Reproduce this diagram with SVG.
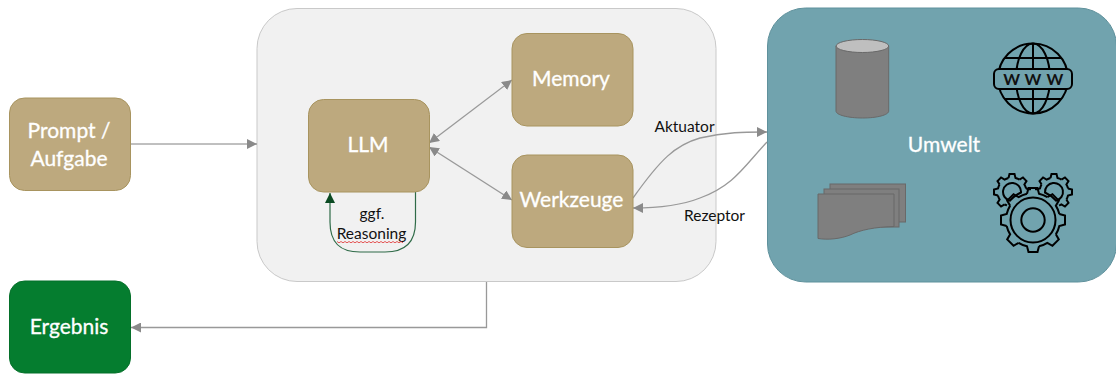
<svg xmlns="http://www.w3.org/2000/svg" width="1116" height="374" viewBox="0 0 1116 374">
<style>
text{font-family:"Lato","Open Sans","Liberation Sans",sans-serif;text-anchor:middle}
.n{fill:#bda97e;stroke:#a8945f;stroke-width:1}
.w{fill:#fff;font-size:21px;stroke:#fff;stroke-width:0.300}
.b{fill:#111;font-size:15.500px}
.c{fill:none;stroke:#999;stroke-width:1.300}
.i{fill:none;stroke:#000;stroke-width:2}
.s{fill:#7f7f7f;stroke:#696969;stroke-width:1}
</style>
<defs>
<marker id="a" viewBox="0 0 10 10" refX="10" refY="5" markerWidth="10" markerHeight="10" markerUnits="userSpaceOnUse" orient="auto-start-reverse"><path d="M0 0L10 5L0 10z" fill="#8a8a8a"/></marker>
<marker id="g" viewBox="0 0 10 10" refX="10" refY="5" markerWidth="10" markerHeight="10" markerUnits="userSpaceOnUse" orient="auto"><path d="M0 0L10 5L0 10z" fill="#0b4a22"/></marker>
<path id="bt" d="M-6 -26.300L-4.500 -32L4.500 -32L6 -26.300A27 27 0 0 1 14.400 -22.850" class="i"/>
<path id="st" d="M-3.500 -14L-2.500 -18L2.500 -18L3.500 -14A14.500 14.500 0 0 1 7.470 -12.430" class="i"/>
<g id="sg">
<use href="#st"/><use href="#st" transform="rotate(45)"/><use href="#st" transform="rotate(90)"/><use href="#st" transform="rotate(135)"/><use href="#st" transform="rotate(180)"/><use href="#st" transform="rotate(225)"/><use href="#st" transform="rotate(270)"/><use href="#st" transform="rotate(315)"/>
</g>
</defs>
<g id="agent"><rect x="257" y="8.500" width="459" height="273" rx="40" fill="#f1f1f1" stroke="#c9c9c9" stroke-width="1"/></g>
<g id="umwelt">
<rect x="767.500" y="8" width="349" height="274" rx="38" fill="#71a3ae" stroke="#5f919c" stroke-width="1"/>
<text class="w" x="944" y="151.500">Umwelt</text>
<g id="cylinder"><path class="s" d="M836 46V111C836 115 848 118 862.500 118C877 118 888.700 115 888.700 111V46z"/><ellipse cx="862.400" cy="46" rx="26.300" ry="6.500" fill="#bfbfbf" stroke="#696969"/></g>
<g id="documents"><rect class="s" x="830" y="184" width="75.500" height="38"/><rect class="s" x="824" y="189" width="75" height="38"/><path class="s" d="M818 194H894V226.500C875 227 860 230 850 235C840 239 828 240 818 238.500z"/></g>
<g id="globe">
<circle class="i" cx="1033" cy="78.500" r="35"/><ellipse class="i" cx="1033" cy="78.500" rx="17" ry="35"/><path class="i" d="M1033 43.500V113.500M1005 58H1061M1005 99H1061"/>
<rect x="994" y="69" width="78" height="20" rx="5" fill="#71a3ae" stroke="#000" stroke-width="2"/>
<text x="1011.700 1033 1055" y="84.500" style="font-size:16px;font-weight:700" fill="#111">WWW</text>
</g>
<g id="gears">
<use href="#sg" transform="translate(1012 192)"/><use href="#sg" transform="translate(1054 192)"/>
<circle cx="1033" cy="220" r="30" fill="#71a3ae"/>
<path class="i" d="M1010 200.700A9 9 0 1 1 1021 192.500A30 30 0 0 0 1010 200.700z"/>
<path class="i" d="M1056 200.700A9 9 0 1 0 1045 192.500A30 30 0 0 1 1056 200.700z"/>
<g transform="translate(1033 220)"><use href="#bt"/><use href="#bt" transform="rotate(45)"/><use href="#bt" transform="rotate(90)"/><use href="#bt" transform="rotate(135)"/><use href="#bt" transform="rotate(180)"/><use href="#bt" transform="rotate(225)"/><use href="#bt" transform="rotate(270)"/><use href="#bt" transform="rotate(315)"/><circle r="22.500" class="i"/><circle r="11.700" class="i"/></g>
</g>
</g>
<g id="connectors">
<path class="c" style="stroke:#808080;stroke-width:1" marker-end="url(#a)" d="M130.500 144H257"/>
<path class="c" marker-end="url(#a)" d="M486.500 282V327.500H131"/>
<path class="c" marker-start="url(#a)" marker-end="url(#a)" d="M429 143L512 80"/>
<path class="c" marker-start="url(#a)" marker-end="url(#a)" d="M429 147L512 200"/>
<path class="c" marker-end="url(#a)" d="M633 198C660 160 675 145 700 138C725 132 745 132 767 132"/>
<path class="c" marker-end="url(#a)" d="M767 142C745 165 735 185 700 198C680 206 655 208 633 208"/>
<path fill="none" stroke="#2f6b48" stroke-width="1.200" marker-end="url(#g)" d="M415.500 192V222C415.500 243 405 252 385 252H360C340 252 330 243 330 222V193"/>
</g>
<g id="llm"><rect class="n" x="308.500" y="99.500" width="121" height="92.500" rx="15"/><text class="w" x="368" y="151.500">LLM</text></g>
<g id="memory"><rect class="n" x="512" y="33.500" width="121" height="92.500" rx="15"/><text class="w" x="571" y="86">Memory</text></g>
<g id="werkzeuge"><rect class="n" x="512" y="155" width="121" height="92.500" rx="15"/><text class="w" x="571.500" y="206.500">Werkzeuge</text></g>
<g id="prompt"><rect class="n" x="9.500" y="98" width="121" height="92.500" rx="15"/><text class="w" x="69" y="138">Prompt /</text><text class="w" x="69" y="166">Aufgabe</text></g>
<g id="ergebnis"><rect x="9.500" y="281" width="121" height="92" rx="15" fill="#057d2f" stroke="#05702a"/><text class="w" x="69" y="334">Ergebnis</text></g>
<g id="labels">
<text class="b" x="372" y="219">ggf.</text>
<text class="b" x="371.500" y="239">Reasoning</text>
<path fill="none" stroke="#e03030" stroke-width="0.800" d="M337 241.500l2 1.300l2 -1.300l2 1.300l2 -1.300l2 1.300l2 -1.300l2 1.300l2 -1.300l2 1.300l2 -1.300l2 1.300l2 -1.300l2 1.300l2 -1.300l2 1.300l2 -1.300l2 1.300l2 -1.300l2 1.300l2 -1.300l2 1.300l2 -1.300l2 1.300l2 -1.300l2 1.300l2 -1.300l2 1.300l2 -1.300l2 1.300l2 -1.300l2 1.300l2 -1.300l2 1.300"/>
<text class="b" x="684.500" y="132">Aktuator</text>
<text class="b" x="714.500" y="220.500">Rezeptor</text>
</g>
</svg>
